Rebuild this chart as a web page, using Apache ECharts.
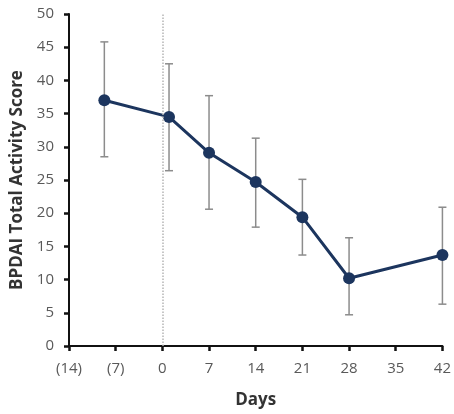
<!DOCTYPE html>
<html>
<head>
<meta charset="utf-8">
<script src="https://cdn.jsdelivr.net/npm/echarts@6/dist/echarts.min.js"></script>
<style>
  html, body { margin: 0; padding: 0; background: #fff; }
  #chart { width: 454px; height: 414px; }
</style>
</head>
<body>
<div id="chart"></div>
<script>
// days relative to baseline, mean score and error bar ends
const days = [-8.7, 1, 7, 14, 21, 28, 42]
const score = [37.0, 34.5, 29.1, 24.7, 19.4, 10.2, 13.7]
const upper = [45.8, 42.5, 37.7, 31.3, 25.1, 16.3, 20.9]
const lower = [28.5, 26.4, 20.6, 17.9, 13.7, 4.7, 6.3]

const font = 'Open Sans'

const chart = echarts.init(document.getElementById('chart'))

function errorBar (params, api) {
  const x = api.value(0)
  const top = api.coord([x, api.value(1)])
  const bot = api.coord([x, api.value(2)])
  const w = 4
  const style = { stroke: '#8c8c8c', lineWidth: 1.5 }
  return {
    type: 'group',
    children: [
      { type: 'line', shape: { x1: top[0], y1: top[1], x2: bot[0], y2: bot[1] }, style },
      { type: 'line', shape: { x1: top[0] - w, y1: top[1], x2: top[0] + w, y2: top[1] }, style },
      { type: 'line', shape: { x1: bot[0] - w, y1: bot[1], x2: bot[0] + w, y2: bot[1] }, style }
    ]
  }
}

chart.setOption({
  animation: false,
  grid: { left: 69, right: 7, top: 14, bottom: 68 },
  xAxis: {
    type: 'value',
    min: -14,
    max: 42,
    interval: 7,
    name: 'Days',
    nameLocation: 'middle',
    nameGap: 46,
    nameTextStyle: { fontFamily: font, fontSize: 17, fontWeight: 'bold', color: '#333' },
    axisLine: { onZero: false, lineStyle: { color: '#111', width: 2 } },
    axisTick: { show: true, inside: false, length: 5, lineStyle: { color: '#111', width: 2.5 } },
    axisLabel: {
      margin: 15,
      fontFamily: font,
      fontSize: 15,
      color: '#595959',
      formatter: v => v < 0 ? '(' + (-v) + ')' : String(v)
    },
    splitLine: { show: false }
  },
  yAxis: {
    type: 'value',
    min: 0,
    max: 50,
    interval: 5,
    name: 'BPDAI Total Activity Score',
    nameLocation: 'middle',
    nameGap: 42,
    nameTextStyle: { fontFamily: font, fontSize: 17, fontWeight: 'bold', color: '#333' },
    axisLine: { show: true, onZero: false, lineStyle: { color: '#111', width: 2 } },
    axisTick: { show: true, inside: false, length: 5, lineStyle: { color: '#111', width: 2.5 } },
    axisLabel: { margin: 15, fontFamily: font, fontSize: 15, color: '#595959' },
    splitLine: { show: false }
  },
  series: [
    {
      type: 'custom',
      renderItem: errorBar,
      data: days.map((d, i) => [d, upper[i], lower[i]]),
      z: 1
    },
    {
      type: 'line',
      data: days.map((d, i) => [d, score[i]]),
      symbol: 'circle',
      symbolSize: 12,
      lineStyle: { color: '#1c355e', width: 3 },
      itemStyle: { color: '#1c355e' },
      z: 3,
      markLine: {
        silent: true,
        symbol: 'none',
        label: { show: false },
        lineStyle: { color: '#b5b5b5', type: 'dotted', width: 1.5 },
        data: [{ xAxis: 0 }]
      }
    }
  ]
})
</script>
</body>
</html>
